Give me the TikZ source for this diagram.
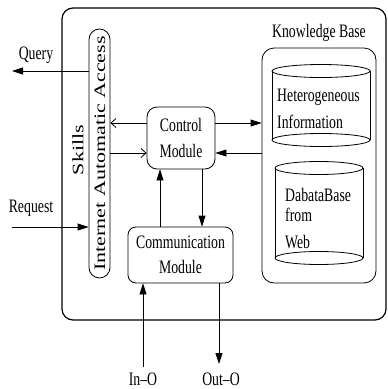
\documentclass[tikz,border=0pt]{standalone}
\usepackage{fontspec}
\setmainfont{Liberation Serif}
\usepackage{graphicx}
\usetikzlibrary{arrows.meta}
% narrow horizontal lettering
\newcommand{\nx}[1]{\scalebox{0.725}[1]{#1}}
% lettering squeezed across its height, for the upright columns
\newcommand{\ny}[1]{\scalebox{1}[0.725]{#1}}
\begin{document}
\begin{tikzpicture}[x=1pt,y=-1pt,
  lbl/.style={font=\fontsize{19}{25.5}\selectfont, inner sep=0pt},
  box/.style={draw, line width=0.8pt, rounded corners=10pt, inner sep=0pt,
              font=\fontsize{19}{25.5}\selectfont, align=center},
  cyl/.style={line width=0.8pt},
  fa/.style={line width=0.8pt, -{Triangle[length=11pt,width=7pt]}},
  oa/.style={line width=0.8pt, -{Straight Barb[length=5pt,width=9pt]}},
  side/.style={font=\fontsize{22}{24}\selectfont, rotate=90, inner sep=0pt}]
\useasboundingbox (0,0) rectangle (388,389);

% outer frame
\node[draw, line width=1.2pt, rounded corners=11pt, minimum width=324pt,
      minimum height=312pt, inner sep=0pt] (frame) at (224,164) {};

% skills column
\node[draw, line width=0.8pt, rounded corners=10.5pt, minimum width=21pt,
      minimum height=249pt, inner sep=0pt] (pill) at (99.5,153.5) {};
\node[side] (pilltxt) at (100,153.5) {\ny{Internet Automatic Access}};
\node[side] (skills) at (78,150) {\ny{Skills}};

% modules
\node[box, minimum width=68pt, minimum height=62pt] (ctrl) at (181,138)
  {\nx{Control}\\\nx{Module}};
\node[box, rounded corners=8pt, minimum width=105pt, minimum height=56pt] (comm)
  at (180.5,255) {\nx{Communication}\\\nx{Module}};

% knowledge base
\node[draw, line width=0.8pt, rounded corners=12pt, minimum width=114pt,
      minimum height=235pt, inner sep=0pt] (kb) at (319,165.5) {};
\node[lbl] (kblbl) at (319,33) {\nx{Knowledge Base}};

% first store
\draw[cyl] (321,71) ellipse [x radius=49, y radius=6.5];
\draw[cyl] (272,71) -- (272,140) (370,71) -- (370,140);
\draw[cyl] (321,140) ellipse [x radius=49, y radius=6.5];
\node[lbl, anchor=west] (het) at (277,97) {\nx{Heterogeneous}};
\node[lbl, anchor=west] (inf) at (277,122) {\nx{Information}};

% second store
\draw[cyl] (319,168) ellipse [x radius=44, y radius=6.5];
\draw[cyl] (275,168) -- (275,258) (363,168) -- (363,258);
\draw[cyl] (319,258) ellipse [x radius=44, y radius=6.5];
\node[lbl, anchor=west] (dbb) at (285,195) {\nx{DabataBase}};
\node[lbl, anchor=west] (dbf) at (285,215) {\nx{from}};
\node[lbl, anchor=west] (dbw) at (285,242) {\nx{Web}};

% links between modules
\draw[oa] (ctrl.west |- 0,123) -- (pill.east |- 0,123);
\draw[oa] (pill.east |- 0,153) -- (ctrl.west |- 0,153);
\draw[fa] (ctrl.east |- 0,123) -- (kb.west |- 0,123);
\draw[fa] (kb.west |- 0,153) -- (ctrl.east |- 0,153);
\draw[fa] (comm.north -| 160,0) -- (ctrl.south -| 160,0);
\draw[fa] (ctrl.south -| 202,0) -- (comm.north -| 202,0);

% external inputs and outputs
\coordinate (qend) at (12,71);
\draw[fa] (pill.west |- qend) -- (qend);
\node[lbl] (qlbl) at (36,55) {\nx{Query}};
\coordinate (rstart) at (12,227);
\draw[fa] (rstart) -- (pill.west |- rstart);
\node[lbl] (rlbl) at (31,208) {\nx{Request}};
\coordinate (inq) at (143,367);
\draw[fa] (inq) -- (comm.south -| inq);
\node[lbl] (inlbl) at (143,379) {\nx{In--O}};
\coordinate (outq) at (219,364);
\draw[fa] (comm.south -| outq) -- (outq);
\node[lbl] (outlbl) at (221,379) {\nx{Out--O}};
\end{tikzpicture}
\end{document}
